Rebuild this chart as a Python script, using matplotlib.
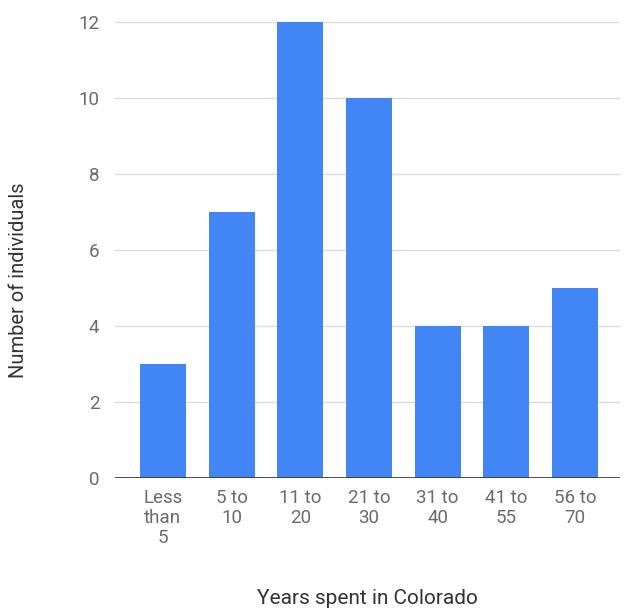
import matplotlib.pyplot as plt

plt.rcParams['font.family'] = ['Roboto', 'DejaVu Sans']

categories = ["Less\nthan\n5", "5 to\n10", "11 to\n20", "21 to\n30",
              "31 to\n40", "41 to\n55", "56 to\n70"]
counts = [3, 7, 12, 10, 4, 4, 5]
yticks = [0, 2, 4, 6, 8, 10, 12]

BAR_BLUE = '#4285F4'
GRID = '#dcdcdc'
TICK_GRAY = '#6b6b6b'

fig = plt.figure(figsize=(6.24, 6.09), dpi=100)
ax = fig.add_axes([0.184, 0.215, 0.81, 0.749])

x = range(len(categories))
ax.bar(x, counts, width=0.67, color=BAR_BLUE, zorder=3)

ax.set_xlim(-0.7, len(categories) - 0.34)
ax.set_ylim(0, 12)
ax.set_yticks(yticks)
ax.set_xticks(list(x))
ax.set_xticklabels(categories, linespacing=1.12)

ax.grid(axis='y', color=GRID, lw=1.0, zorder=0)
ax.axhline(0, color='#333333', lw=1.2, zorder=4)
for s in ax.spines.values():
    s.set_visible(False)
ax.tick_params(axis='both', length=0, labelsize=13.5, colors=TICK_GRAY)
ax.tick_params(axis='y', pad=11)
ax.tick_params(axis='x', pad=8)
ax.set_axisbelow(True)

ax.set_xlabel('Years spent in Colorado', fontsize=15, color='#333333', va='center')
ax.xaxis.set_label_coords(0.5, -0.263)
ax.set_ylabel('Number of individuals', fontsize=14.5, color='#333333', va='center')
ax.yaxis.set_label_coords(-0.19, 0.434)

fig.savefig('out.png', dpi=100, facecolor='white')
